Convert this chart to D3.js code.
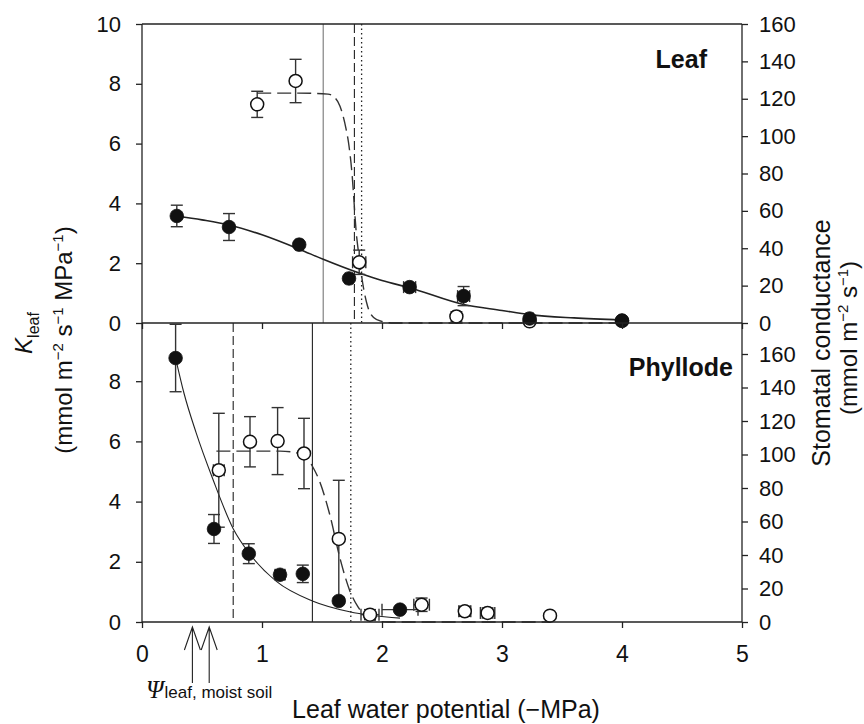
<!DOCTYPE html>
<html>
<head>
<meta charset="utf-8">
<script src="https://cdn.jsdelivr.net/npm/d3@7"></script>
<style>
  body { margin: 0; background: #fff; }
  svg { font-family: "Liberation Sans", Arial, sans-serif; }
</style>
</head>
<body>
<script>
// ---- data ----
// [psi, value, yerr, xerr]
const leafK = [
  [0.29, 3.58, 0.36, 0], [0.725, 3.21, 0.45, 0], [1.31, 2.62, 0.08, 0.03],
  [1.725, 1.49, 0.05, 0.03], [2.23, 1.20, 0.10, 0.05], [2.68, 0.90, 0.32, 0.05],
  [3.23, 0.15, 0.05, 0.03], [4.0, 0.08, 0.03, 0.02]
];
const leafGs = [
  [0.96, 117, 7, 0], [1.28, 129.5, 11.6, 0], [1.81, 32.5, 6.5, 0.055],
  [2.62, 3.5, 2.5, 0.03], [3.23, 0.9, 0.5, 0], [4.0, 1.2, 0.5, 0]
];
const phylK = [
  [0.28, 8.77, 1.12, 0], [0.60, 3.09, 0.48, 0], [0.89, 2.27, 0.33, 0],
  [1.15, 1.57, 0.15, 0.04], [1.34, 1.60, 0.29, 0], [1.64, 0.70, 0.08, 0],
  [2.15, 0.41, 0.05, 0.15]
];
const phylGs = [
  [0.64, 90.6, 34, 0.045], [0.90, 107.6, 15, 0], [1.13, 108, 20, 0],
  [1.35, 100.6, 21, 0], [1.64, 49.6, 35, 0], [1.90, 4.4, 3, 0.075],
  [2.33, 10.3, 4, 0.065], [2.69, 6.4, 3, 0.05], [2.88, 5.4, 3, 0.06],
  [3.40, 3.8, 0, 0]
];
// fitted curves
const leafKFit = [[0.29,3.58],[0.5,3.45],[0.725,3.28],[1.0,2.95],[1.31,2.47],[1.51,2.13],
  [1.81,1.67],[2.0,1.42],[2.23,1.18],[2.68,0.62],[3.0,0.42],[3.23,0.28],[3.6,0.17],[4.0,0.1]];
const leafGsFit = [[0.96,123],[1.3,123],[1.55,122.5],[1.6,121],[1.65,116],[1.7,104],[1.72,97],
  [1.75,80],[1.786,48],[1.81,35],[1.84,21],[1.88,9],[1.93,3],[2.0,0.8],[2.1,0],[4.0,0]];
const phylKFit = [[0.28,8.77],[0.35,7.6],[0.45,6.3],[0.59,4.75],[0.76,3.1],[0.9,2.25],
  [1.12,1.35],[1.42,0.7],[1.73,0.34],[2.15,0.13]];
const phylGsFit = [[0.62,102],[1.15,102],[1.35,100],[1.42,93],[1.48,84],[1.565,64],[1.65,38],
  [1.73,19],[1.8,9],[1.89,2.4],[1.95,0.8],[2.05,0],[3.4,0]];
// vertical reference lines: [psi, style]
const leafVLines = [[1.51, "solid"], [1.77, "dashed"], [1.83, "dotted"]];
const phylVLines = [[0.76, "dashed"], [1.42, "solid"], [1.74, "dotted"]];
const moistSoilPsi = [0.42, 0.56];
const xTicks = [0, 1, 2, 3, 4, 5];
const kTicksTop = [0, 2, 4, 6, 8, 10];
const kTicksBot = [0, 2, 4, 6, 8];
const gsTicks = [0, 20, 40, 60, 80, 100, 120, 140, 160];

const W = 864, H = 724;
const svg = d3.select("body").append("svg").attr("width", W).attr("height", H);

const x = d3.scaleLinear().domain([0, 5]).range([142, 742]);
const ink = "#222";

const panels = [
  {name: "Leaf", k: leafK, g: leafGs, kFit: leafKFit, gFit: leafGsFit, vl: leafVLines,
   yK: d3.scaleLinear().domain([0, 10]).range([323, 24]),
   yG: d3.scaleLinear().domain([0, 160]).range([323, 24]),
   kTicks: kTicksTop, top: 24, bottom: 323, labelY: 68, labelX: 707},
  {name: "Phyllode", k: phylK, g: phylGs, kFit: phylKFit, gFit: phylGsFit, vl: phylVLines,
   yK: d3.scaleLinear().domain([0, 10]).range([622, 321]),
   yG: d3.scaleLinear().domain([0, 160]).range([622, 354]),
   kTicks: kTicksBot, top: 323, bottom: 622, labelY: 376, labelX: 733}
];

const dash = {solid: null, dashed: "9,4", dotted: "1.5,3"};

panels.forEach((p, pi) => {
  let g = svg.append("g");

  // vertical reference lines
  g.selectAll("line.vl").data(p.vl).join("line")
    .attr("x1", d => x(d[0])).attr("x2", d => x(d[0]))
    .attr("y1", p.top).attr("y2", p.bottom)
    .attr("stroke", d => (pi === 0 && d[1] === "solid") ? "#777" : ink)
    .attr("stroke-width", d => d[1] === "dotted" ? 1.3 : 1.1)
    .attr("stroke-dasharray", d => dash[d[1]]);

  // fitted lines
  g.append("path")
    .attr("d", d3.line().x(d => x(d[0])).y(d => p.yK(d[1])).curve(d3.curveMonotoneX)(p.kFit))
    .attr("fill", "none").attr("stroke", ink).attr("stroke-width", pi === 0 ? 1.6 : 1.1);
  g.append("path")
    .attr("d", d3.line().x(d => x(d[0])).y(d => p.yG(d[1])).curve(d3.curveMonotoneX)(p.gFit))
    .attr("fill", "none").attr("stroke", "#333").attr("stroke-width", 1.4)
    .attr("stroke-dasharray", "14,6");

  // error bars
  let bars = [
    ...p.k.map(d => ({d, y: p.yK})),
    ...p.g.map(d => ({d, y: p.yG}))
  ];
  let cap = 6;
  bars.forEach(({d, y}) => {
    let cx = x(d[0]), cy = y(d[1]);
    if (d[2] > 0) {
      let y0 = y(d[1] - d[2]), y1 = y(d[1] + d[2]);
      g.append("line").attr("x1", cx).attr("x2", cx).attr("y1", y0).attr("y2", y1);
      g.append("line").attr("x1", cx - cap).attr("x2", cx + cap).attr("y1", y0).attr("y2", y0);
      g.append("line").attr("x1", cx - cap).attr("x2", cx + cap).attr("y1", y1).attr("y2", y1);
    }
    if (d[3] > 0) {
      let x0 = x(d[0] - d[3]), x1 = x(d[0] + d[3]);
      g.append("line").attr("x1", x0).attr("x2", x1).attr("y1", cy).attr("y2", cy);
      g.append("line").attr("x1", x0).attr("x2", x0).attr("y1", cy - cap).attr("y2", cy + cap);
      g.append("line").attr("x1", x1).attr("x2", x1).attr("y1", cy - cap).attr("y2", cy + cap);
    }
  });
  g.selectAll("line:not([stroke])").attr("stroke", "#333").attr("stroke-width", 1.4);

  // points
  g.selectAll("circle.g").data(p.g).join("circle")
    .attr("cx", d => x(d[0])).attr("cy", d => p.yG(d[1])).attr("r", 6.5)
    .attr("fill", "#fff").attr("stroke", "#111").attr("stroke-width", 1.5);
  g.selectAll("circle.k").data(p.k).join("circle")
    .attr("cx", d => x(d[0])).attr("cy", d => p.yK(d[1])).attr("r", 6.8)
    .attr("fill", "#111").attr("stroke", "#111").attr("stroke-width", 0.8);

  // axes
  let left = svg.append("g").attr("transform", `translate(${x(0)},0)`)
    .call(d3.axisLeft(p.yK).tickValues(p.kTicks).tickSize(6).tickSizeOuter(0).tickPadding(15));
  left.selectAll("text").style("font-size", "22px").attr("fill", "#111");
  let right = svg.append("g").attr("transform", `translate(${x(5)},0)`)
    .call(d3.axisRight(p.yG).tickValues(gsTicks).tickSize(6).tickSizeOuter(0).tickPadding(11));
  right.selectAll("text").style("font-size", "22px").attr("fill", "#111");
  let bottom = svg.append("g").attr("transform", `translate(0,${p.bottom})`)
    .call(d3.axisBottom(x).tickValues(xTicks).tickSize(6).tickSizeOuter(0).tickPadding(18)
      .tickFormat(pi === 0 ? "" : d3.format("d")));
  bottom.selectAll("text").style("font-size", "23px").attr("fill", "#111");
  [left, right, bottom].forEach(a => {
    a.select(".domain").remove();
    a.selectAll(".tick line").attr("stroke", ink).attr("stroke-width", 1.3);
  });

  svg.append("text").attr("x", p.labelX).attr("y", p.labelY)
    .attr("text-anchor", "end").style("font-size", "25px").style("font-weight", "bold")
    .attr("fill", "#111").text(p.name);
});

// frame
const frame = svg.append("g").attr("stroke", ink).attr("stroke-width", 1.3).attr("fill", "none");
frame.append("line").attr("x1", x(0)).attr("x2", x(5)).attr("y1", 24).attr("y2", 24);
frame.append("line").attr("x1", x(0)).attr("x2", x(5)).attr("y1", 323).attr("y2", 323);
frame.append("line").attr("x1", x(0)).attr("x2", x(5)).attr("y1", 622).attr("y2", 622);
frame.append("line").attr("x1", x(0)).attr("x2", x(0)).attr("y1", 24).attr("y2", 622);
frame.append("line").attr("x1", x(5)).attr("x2", x(5)).attr("y1", 24).attr("y2", 622);

// arrows for leaf water potential in moist soil
moistSoilPsi.forEach(v => {
  let ax = x(v);
  svg.append("path")
    .attr("d", `M${ax},683V627M${ax - 8},650L${ax},627L${ax + 8},650`)
    .attr("fill", "none").attr("stroke", ink).attr("stroke-width", 1.1);
});
const psi = svg.append("text").attr("x", 146).attr("y", 698).attr("fill", "#111");
psi.append("tspan").style("font-family", "'Liberation Serif', serif").style("font-style", "italic")
  .style("font-size", "25px").text("Ψ");
psi.append("tspan").style("font-size", "17px").attr("dx", 1).text("leaf, moist soil");

// axis titles
svg.append("text").attr("x", 446).attr("y", 718).attr("text-anchor", "middle")
  .style("font-size", "25px").attr("fill", "#111").text("Leaf water potential (−MPa)");

const kT = svg.append("text").attr("transform", "translate(32,333) rotate(-90)")
  .attr("text-anchor", "middle").attr("fill", "#111").style("font-size", "24px");
kT.append("tspan").style("font-style", "italic").text("K");
kT.append("tspan").attr("dy", 7).style("font-size", "16px").text("leaf");

const kU = svg.append("text").attr("transform", "translate(72,340) rotate(-90)")
  .attr("text-anchor", "middle").attr("fill", "#111").style("font-size", "24px");
kU.append("tspan").text("(mmol m");
kU.append("tspan").attr("dy", -9).style("font-size", "15px").text("−2");
kU.append("tspan").attr("dy", 9).text(" s");
kU.append("tspan").attr("dy", -9).style("font-size", "15px").text("−1");
kU.append("tspan").attr("dy", 9).text(" MPa");
kU.append("tspan").attr("dy", -9).style("font-size", "15px").text("−1");
kU.append("tspan").attr("dy", 9).text(")");

svg.append("text").attr("transform", "translate(830,343) rotate(-90)")
  .attr("text-anchor", "middle").attr("fill", "#111").style("font-size", "25px")
  .text("Stomatal conductance");
const gU = svg.append("text").attr("transform", "translate(857,338) rotate(-90)")
  .attr("text-anchor", "middle").attr("fill", "#111").style("font-size", "24px");
gU.append("tspan").text("(mmol m");
gU.append("tspan").attr("dy", -9).style("font-size", "15px").text("−2");
gU.append("tspan").attr("dy", 9).text(" s");
gU.append("tspan").attr("dy", -9).style("font-size", "15px").text("−1");
gU.append("tspan").attr("dy", 9).text(")");
</script>
</body>
</html>
